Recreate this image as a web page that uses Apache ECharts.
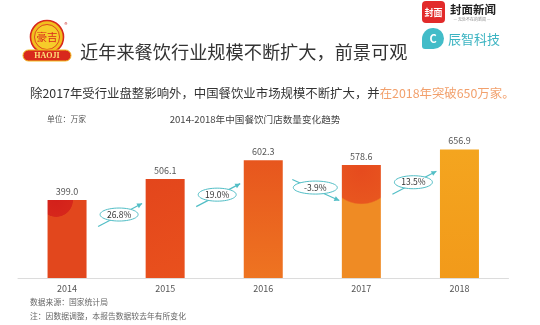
<!DOCTYPE html>
<html><head><meta charset="utf-8">
<script src="https://cdn.jsdelivr.net/npm/echarts@6/dist/echarts.min.js"></script>
<style>html,body{margin:0;padding:0;background:#fff}#c{width:540px;height:325px}</style>
</head><body><div id="c"></div>
<script>
const years = ['2014', '2015', '2016', '2017', '2018'];
const stores = [399.0, 506.1, 602.3, 578.6, 656.9];
const growth = [26.8, 19.0, -3.9, 13.5];
const growthLabels = ['26.8%', '19.0%', '-3.9%', '13.5%'];

const FONT = '"Noto Sans CJK SC", "Noto Sans", sans-serif';
const TEAL = '#52bec6';

const barColors = [
  {type:'radial', x:0.22, y:0, r:0.44, colorStops:[{offset:0,color:'#d3201b'},{offset:0.96,color:'#d6261b'},{offset:1,color:'#e2471d'}]},
  {type:'linear', x:0, y:0, x2:1, y2:1, colorStops:[{offset:0,color:'#e3461c'},{offset:1,color:'#e9511d'}]},
  {type:'linear', x:0, y:0, x2:0, y2:1, colorStops:[{offset:0,color:'#e7561e'},{offset:1,color:'#ee7421'}]},
  {type:'radial', x:0.5, y:0.044, r:0.89, colorStops:[{offset:0,color:'#e64b1e'},{offset:0.96,color:'#e8561f'},{offset:1,color:'#ef8b24'}]},
  {type:'linear', x:0, y:0, x2:0, y2:1, colorStops:[{offset:0,color:'#f4a51f'},{offset:1,color:'#f29a1a'}]}
];

const growthData = growth.map((g, i) => [i, stores[i], stores[i + 1], g]);

function ellipsePoints(cx, cy, rx, ry) {
  const pts = [];
  for (let k = 0; k < 48; k++) {
    const a = k / 48 * Math.PI * 2;
    pts.push([cx + rx * Math.cos(a), cy + ry * Math.sin(a)]);
  }
  return pts;
}
function arrowHead(x1, y1, x2, y2) {
  const ang = Math.atan2(y2 - y1, x2 - x1);
  const L = 5, W = 2.6;
  const bx = x2 - L * Math.cos(ang), by = y2 - L * Math.sin(ang);
  return [[x2, y2], [bx + W * Math.sin(ang), by - W * Math.cos(ang)], [bx - W * Math.sin(ang), by + W * Math.cos(ang)]];
}

const chart = echarts.init(document.getElementById('c'), null, {renderer: 'canvas'});
chart.setOption({
  backgroundColor: '#fff',
  animation: false,
  textStyle: {fontFamily: FONT},
  grid: {left: 18, right: 31.5, top: 121.6, bottom: 47},
  xAxis: {
    type: 'category', data: years,
    axisLine: {lineStyle: {color: '#dcdcdc', width: 1}},
    axisTick: {show: false},
    axisLabel: {color: '#555', fontSize: 9, margin: 6, fontFamily: FONT}
  },
  yAxis: {type: 'value', min: 0, max: 800, show: false, splitLine: {show: false}},
  series: [
    {
      type: 'bar', barWidth: 39,
      data: stores.map((v, i) => ({value: v, itemStyle: {color: barColors[i]}})),
      label: {show: true, position: 'top', distance: 4, color: '#555', fontSize: 9,
        fontFamily: FONT, formatter: p => p.value.toFixed(1)}
    },
    {
      type: 'custom', data: growthData, encode: {x: 0, y: 1}, z: 5, silent: true,
      renderItem: function (params, api) {
        const i = api.value(0), v0 = api.value(1), v1 = api.value(2), g = api.value(3);
        const p0 = api.coord([i, v0]), p1 = api.coord([i + 1, v1]);
        const cx = (p0[0] + p1[0]) / 2 + 3;
        const cy = (p0[1] + p1[1]) / 2 + 25;
        let s, e;
        if (g >= 0) { s = [cx - 21, cy + 12]; e = [cx + 23, cy - 11]; }
        else { s = [cx - 23, cy - 8]; e = [cx + 24, cy + 13]; }
        const rx = g < 0 ? 22 : 19;
        return {type: 'group', children: [
          {type: 'line', shape: {x1: s[0], y1: s[1], x2: e[0], y2: e[1]}, style: {stroke: TEAL, lineWidth: 1.2}},
          {type: 'polygon', shape: {points: arrowHead(s[0], s[1], e[0], e[1])}, style: {fill: TEAL}},
          {type: 'polygon', shape: {points: ellipsePoints(cx, cy, rx, 6.5)}, style: {fill: '#fff', stroke: TEAL, lineWidth: 1}},
          {type: 'text', x: cx, y: cy, style: {text: growthLabels[params.dataIndex], fill: '#333', fontSize: 8.5,
            fontFamily: FONT, align: 'center', verticalAlign: 'middle'}}
        ]};
      }
    }
  ],
  graphic: [
    // HAOJI logo
    {type: 'circle', shape: {cx: 47, cy: 37, r: 16.5}, style: {fill: '#f2be1e', stroke: '#d8281c', lineWidth: 1.6}},
    {type: 'circle', shape: {cx: 47, cy: 37, r: 12.5}, style: {fill: '#f6cc2a', stroke: '#d8281c', lineWidth: 0.8}},
    {type: 'text', x: 47, y: 37, style: {text: '豪吉', fill: '#d8281c', fontSize: 10.5, fontFamily: FONT, align: 'center', verticalAlign: 'middle'}},
    {type: 'rect', shape: {x: 23, y: 50, width: 48, height: 11, r: 5.5}, style: {fill: '#d8281c', stroke: '#f2be1e', lineWidth: 1}},
    {type: 'text', x: 47, y: 55.7, style: {text: 'HAOJI', fill: '#ffe27a', fontSize: 8, fontWeight: 'bold', fontFamily: '"Liberation Serif", serif', align: 'center', verticalAlign: 'middle'}},
    {type: 'text', x: 66, y: 25, style: {text: '®', fill: '#c9302c', fontSize: 6, fontFamily: FONT, align: 'center', verticalAlign: 'middle'}},
    // top right logos
    {type: 'rect', shape: {x: 422, y: 1, width: 23, height: 22, r: 4}, style: {fill: '#e22a2a'}},
    {type: 'text', x: 433.5, y: 12.5, style: {text: '封面', fill: '#fff', fontSize: 9, fontWeight: 'bold', fontFamily: FONT, align: 'center', verticalAlign: 'middle'}},
    {type: 'text', x: 450, y: 9.5, style: {text: '封面新闻', fill: '#222', fontSize: 11.5, fontWeight: 'bold', fontFamily: '"Noto Sans CJK SC", serif', verticalAlign: 'middle'}},
    {type: 'text', x: 472, y: 19.5, style: {text: '— 无处不在的新闻 —', fill: '#888', fontSize: 4, fontFamily: FONT, align: 'center', verticalAlign: 'middle'}},
    {type: 'rect', shape: {x: 422, y: 28, width: 22, height: 21, r: [11, 11, 11, 3]}, style: {fill: '#42bcc8'}},
    {type: 'text', x: 433, y: 38.5, style: {text: 'C', fill: '#fff', fontSize: 11, fontWeight: 'bold', fontFamily: FONT, align: 'center', verticalAlign: 'middle'}},
    {type: 'text', x: 448, y: 39.5, style: {text: '辰智科技', fill: '#3cb4c2', fontSize: 13, fontFamily: FONT, verticalAlign: 'middle'}},
    // titles
    {type: 'text', x: 80, y: 52, style: {text: '近年来餐饮行业规模不断扩大，前景可观', fill: '#333', fontSize: 18.2, fontFamily: FONT, verticalAlign: 'middle'}},
    {type: 'text', x: 30, y: 93, style: {
      text: '{a|除2017年受行业盘整影响外，中国餐饮业市场规模不断扩大，并}{b|在2018年突破650万家。}',
      fontFamily: FONT, verticalAlign: 'middle',
      rich: {a: {fill: '#333', fontSize: 12.4, fontFamily: FONT}, b: {fill: '#f2a06c', fontSize: 12.4, fontFamily: FONT}}
    }},
    {type: 'text', x: 47, y: 119.5, style: {text: '单位：万家', fill: '#555', fontSize: 7.8, fontFamily: FONT, verticalAlign: 'middle'}},
    {type: 'text', x: 255, y: 119.5, style: {text: '2014-2018年中国餐饮门店数量变化趋势', fill: '#444', fontSize: 9.6, fontFamily: FONT, align: 'center', verticalAlign: 'middle'}},
    {type: 'text', x: 30, y: 302, style: {text: '数据来源：国家统计局', fill: '#666', fontSize: 7.8, fontFamily: FONT, verticalAlign: 'middle'}},
    {type: 'text', x: 30, y: 316, style: {text: '注：因数据调整，本报告数据较去年有所变化', fill: '#666', fontSize: 7.8, fontFamily: FONT, verticalAlign: 'middle'}}
  ]
});
</script></body></html>
